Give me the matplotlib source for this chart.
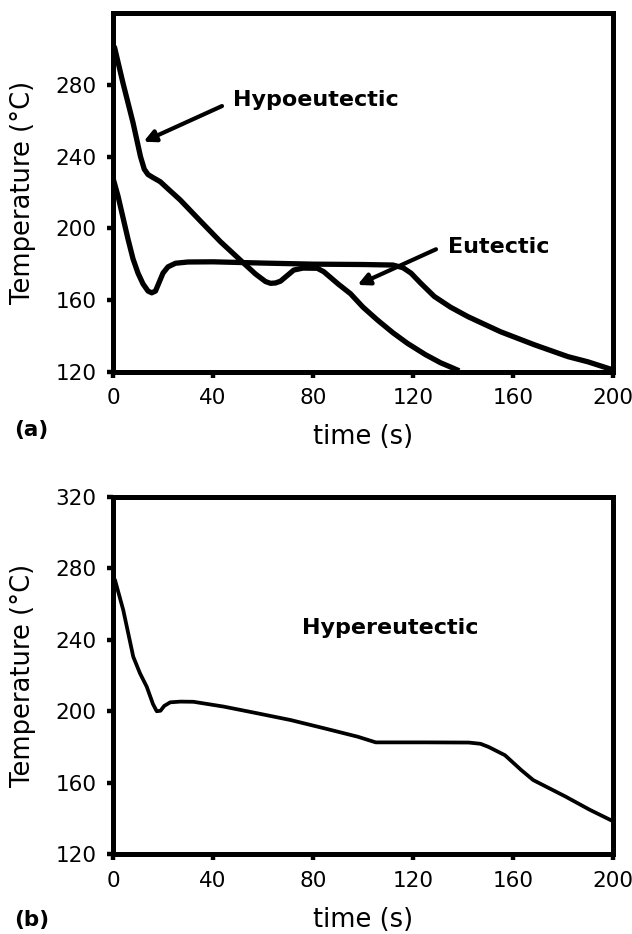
import matplotlib
matplotlib.use("Agg")
import matplotlib.pyplot as plt

# ---- data ----
hypo_t = [0, 0.6, 4, 8, 11, 12.5, 14, 16, 18.9, 22, 26.9, 35, 43, 51.6, 57, 61, 63, 65, 67, 70, 72.3, 76, 81.7, 84.3, 90, 95, 100, 105.8, 112, 117.8, 125, 131, 135.2, 138.5]
hypo_T = [299, 301, 281, 259, 240, 233, 230, 228.3, 226, 222, 215.8, 204, 192.5, 181.4, 174.5, 170.3, 169.3, 169.5, 170.5, 174, 176.7, 177.8, 177.7, 175.8, 169, 163.5, 156, 148.8, 141.7, 135.8, 129.5, 125, 122.5, 120.5]

eut_t = [0, 2, 4, 6, 8, 10, 12, 14, 15.5, 17, 18.5, 20, 22, 25, 30, 40, 60, 80, 100, 112, 116, 119.2, 123, 128.5, 135, 142, 155, 168.6, 182, 190, 200]
eut_T = [228, 218, 206, 194, 183, 175, 169, 165, 164, 165, 170, 175, 178.5, 180.5, 181.2, 181.3, 180.6, 180, 179.8, 179.5, 178, 175, 169.5, 162, 156, 150.7, 142.3, 135, 128.4, 125.5, 121]

hyper_t = [0, 0.8, 4.1, 8.1, 10.8, 13.5, 16, 17.5, 19, 20.5, 22.9, 27, 32.2, 44.3, 57.6, 71, 84.4, 97.8, 105.1, 111.1, 125, 142.3, 147, 150.3, 156.8, 163.3, 168.1, 181, 190.7, 200]
hyper_T = [275, 273.4, 256.6, 230.5, 221.2, 213.7, 204, 200, 200.3, 203, 205, 205.4, 205.3, 202.6, 198.9, 195.1, 190.5, 185.8, 182.6, 182.6, 182.6, 182.5, 181.8, 180, 175.4, 167.1, 161.5, 152.3, 144.9, 138.5]

xticks = [0, 40, 80, 120, 160, 200]
yticks_a = [120, 160, 200, 240, 280]
yticks_b = [120, 160, 200, 240, 280, 320]

W, H = 632, 934
fig = plt.figure(figsize=(W / 100, H / 100), dpi=100)

def make_ax(top_px, bottom_px):
    left, right = 113, 613
    return fig.add_axes([left / W, 1 - bottom_px / H, (right - left) / W, (bottom_px - top_px) / H])

def style(ax, yticks, xlab_y):
    ax.set_xlim(0, 200)
    ax.set_ylim(120, 320)
    ax.set_xticks(xticks)
    ax.set_yticks(yticks)
    for s in ax.spines.values():
        s.set_linewidth(3.6)
        s.set_color('black')
    ax.tick_params(direction='out', length=4, width=3.2, labelsize=15.5, pad=8)
    ax.set_xlabel('time (s)', fontsize=18.5)
    ax.set_ylabel('Temperature (°C)', fontsize=18.5)
    ax.xaxis.label.set_va('center')
    ax.yaxis.label.set_va('center')
    ax.xaxis.set_label_coords(0.5, xlab_y)
    ax.yaxis.set_label_coords(-0.1804, 0.5)

# ---- panel (a) ----
ax1 = make_ax(13.2, 371.7)
ax1.plot(hypo_t, hypo_T, color='black', lw=3.8, solid_capstyle='butt', solid_joinstyle='round')
ax1.plot(eut_t, eut_T, color='black', lw=3.8, solid_capstyle='butt', solid_joinstyle='round')
style(ax1, yticks_a, -0.182)
arrow_kw = dict(arrowstyle='-|>,head_length=0.7,head_width=0.35', color='black', lw=3.0, shrinkA=0, shrinkB=0)
ax1.annotate('', xy=(12.2, 248.3), xytext=(43.6, 268.2), arrowprops=arrow_kw)
ax1.text(48.1, 271.6, 'Hypoeutectic', fontsize=16, fontweight='bold', ha='left', va='center')
ax1.annotate('', xy=(97.8, 168.4), xytext=(129.2, 188.3), arrowprops=arrow_kw)
ax1.text(133.9, 189.7, 'Eutectic', fontsize=16, fontweight='bold', ha='left', va='center')

# ---- panel (b) ----
ax2 = make_ax(496.7, 854.3)
ax2.plot(hyper_t, hyper_T, color='black', lw=2.7, solid_joinstyle='round')
style(ax2, yticks_b, -0.183)
ax2.text(75.7, 246.6, 'Hypereutectic', fontsize=16, fontweight='bold', ha='left', va='center')

fig.text(31 / W, 1 - 430 / H, '(a)', fontsize=15.5, fontweight='bold', ha='center', va='center')
fig.text(31.5 / W, 1 - 920 / H, '(b)', fontsize=15.5, fontweight='bold', ha='center', va='center')

fig.savefig('out.png', dpi=100)
